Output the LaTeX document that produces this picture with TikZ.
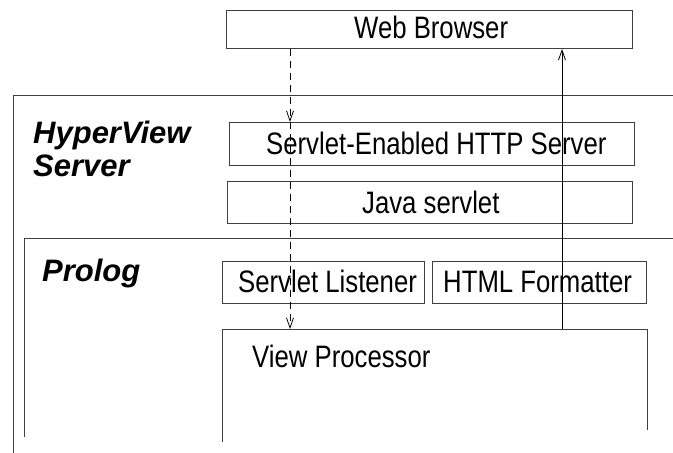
\documentclass[tikz,border=0pt]{standalone}
\usepackage{fontspec}
\setmainfont{Liberation Sans}
\newfontfamily\narrowsans[FakeStretch=0.83]{Liberation Sans}
\usetikzlibrary{arrows.meta}

\begin{document}
\begin{tikzpicture}[x=1pt,y=-1pt,
  frame/.style={draw=black!75, line width=0.9pt},
  box/.style={draw=black!75, line width=0.9pt, inner sep=0pt, anchor=north west},
  lbl/.style={anchor=base west, inner sep=0pt, font=\fontsize{31}{35}\selectfont\narrowsans},
  tag/.style={anchor=base west, inner sep=0pt, font=\fontsize{31}{34}\selectfont\bfseries\itshape},
  flow/.style={line width=0.8pt, -{Straight Barb[length=10pt,width=7pt]}},
  request/.style={flow, dash pattern=on 7pt off 5pt},
]
\useasboundingbox (0,0) rectangle (673,453);

% layer frames (open on the right and at the bottom)
\draw[frame] (673,95.5) -- (13,95.5) -- (13,453);
\draw[frame] (673,238.5) -- (24,238.5) -- (24,437);

% component boxes
\node[box, minimum width=406pt, minimum height=38pt] (wb)  at (226,10)  {};
\node[box, minimum width=405pt, minimum height=43pt] (seh) at (229,122) {};
\node[box, minimum width=405pt, minimum height=42pt] (js)  at (227,181) {};
\node[box, minimum width=202pt, minimum height=42pt] (sl)  at (222,261) {};
\node[box, minimum width=214pt, minimum height=42pt] (hf)  at (432,261) {};

% view processor, open at the bottom
\coordinate (vptl) at (222,329);
\coordinate (vptr) at (647,329);
\draw[frame] (222,442) -- (vptl) -- (vptr) -- (647,430);

% labels
\node[lbl] (twb) at (354,38)  {Web Browser};
\node[lbl] (tseh) at (266,154)  {Servlet-Enabled HTTP Server};
\node[lbl] (tjs) at (362,213)   {Java servlet};
\node[lbl] (tsl) at (238,292.5) {Servlet Listener};
\node[lbl] (thf) at (443,292.5) {HTML Formatter};
\node[lbl] (tvp) at (252,367.5) {View Processor};
\node[tag] (thv) at (33,143.3)  {HyperView};
\node[tag] (tsv) at (33,176.7)  {Server};
\node[tag] (tpr) at (42,281.7)  {Prolog};

% request path (dashed) and response path (solid)
\coordinate (dx) at (290,0);
\coordinate (ux) at (562,0);
\draw[request] (wb.south -| dx) -- (seh.north -| dx);
\draw[request] (seh.north -| dx) -- (vptl -| dx);
\draw[flow] (vptl -| ux) -- (wb.south -| ux);
\end{tikzpicture}
\end{document}
